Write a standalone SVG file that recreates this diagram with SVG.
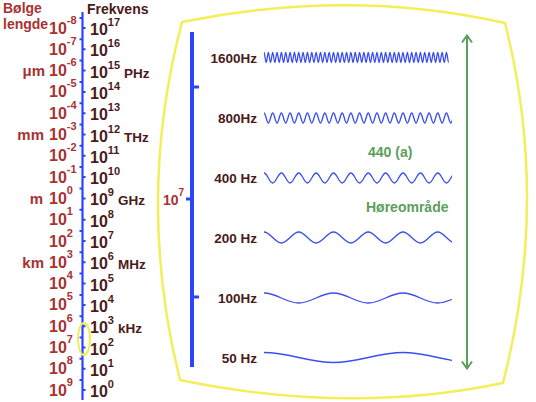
<svg xmlns="http://www.w3.org/2000/svg" width="536" height="402" viewBox="0 0 536 402">
<style>
.wl{font-family:"Liberation Sans",Arial,sans-serif;font-size:16px;font-weight:bold;fill:#a83232}
.fr{font-family:"Liberation Sans",Arial,sans-serif;font-size:16px;font-weight:bold;fill:#4a1a1a}
.sup{font-size:11px}
.unit{font-family:"Liberation Sans",Arial,sans-serif;font-size:13.5px;font-weight:bold;fill:#4a1a1a}
.wunit{font-family:"Liberation Sans",Arial,sans-serif;font-size:15px;font-weight:bold;fill:#a83232;text-anchor:end}
.head{font-family:"Liberation Sans",Arial,sans-serif;font-size:14px;font-weight:bold}
.hz{font-family:"Liberation Sans",Arial,sans-serif;font-size:13.5px;font-weight:bold;fill:#4a1a1a;text-anchor:end}
.wave{fill:none;stroke:#3a4ef0;stroke-width:1.3}
.green{font-family:"Liberation Sans",Arial,sans-serif;font-size:14px;font-weight:bold;fill:#5c9e5c}
.axis{stroke:#2a44ff;fill:none}
</style>
<defs>
<clipPath id="wclip"><rect x="263" y="0" width="189" height="402"/></clipPath>
</defs>
<rect width="536" height="402" fill="#ffffff"/>

<g id="headers">
<text class="head" x="3" y="13" fill="#a83232">Bølge</text>
<text class="head" x="3" y="28.5" fill="#a83232">lengde</text>
<text class="head" x="87" y="14" fill="#4a1a1a">Frekvens</text>
</g>

<g id="scale-axis">
<line class="axis" x1="82.5" y1="12" x2="82.5" y2="400" stroke-width="2.2"/>
<path class="axis" stroke-width="2" d="M79.5,18H82.5M79.5,39.3H82.5M79.5,60.6H82.5M79.5,81.9H82.5M79.5,103.2H82.5M79.5,124.5H82.5M79.5,145.8H82.5M79.5,167.1H82.5M79.5,188.4H82.5M79.5,209.7H82.5M79.5,231H82.5M79.5,252.3H82.5M79.5,273.6H82.5M79.5,294.9H82.5M79.5,316.2H82.5M79.5,337.5H82.5M79.5,358.8H82.5M79.5,380.1H82.5"/>
<path class="axis" stroke-width="2" d="M82.5,28H85.5M82.5,49.3H85.5M82.5,70.6H85.5M82.5,91.9H85.5M82.5,113.2H85.5M82.5,134.5H85.5M82.5,155.8H85.5M82.5,177.1H85.5M82.5,198.4H85.5M82.5,219.7H85.5M82.5,241H85.5M82.5,262.3H85.5M82.5,283.6H85.5M82.5,304.9H85.5M82.5,326.2H85.5M82.5,347.5H85.5M82.5,368.8H85.5M82.5,390.1H85.5"/>
<ellipse cx="84" cy="339" rx="6" ry="16" fill="none" stroke="#f0ee50" stroke-width="2"/>
</g>

<g id="wavelength-labels">
<text class="wl" x="49" y="33.5">10<tspan class="sup" dy="-10">-8</tspan></text>
<text class="wl" x="49" y="54.8">10<tspan class="sup" dy="-10">-7</tspan></text>
<text class="wl" x="49" y="76.1">10<tspan class="sup" dy="-10">-6</tspan></text>
<text class="wl" x="49" y="97.4">10<tspan class="sup" dy="-10">-5</tspan></text>
<text class="wl" x="49" y="118.7">10<tspan class="sup" dy="-10">-4</tspan></text>
<text class="wl" x="49" y="140">10<tspan class="sup" dy="-10">-3</tspan></text>
<text class="wl" x="49" y="161.3">10<tspan class="sup" dy="-10">-2</tspan></text>
<text class="wl" x="49" y="182.6">10<tspan class="sup" dy="-10">-1</tspan></text>
<text class="wl" x="49" y="203.9">10<tspan class="sup" dy="-10">0</tspan></text>
<text class="wl" x="49" y="225.2">10<tspan class="sup" dy="-10">1</tspan></text>
<text class="wl" x="49" y="246.5">10<tspan class="sup" dy="-10">2</tspan></text>
<text class="wl" x="49" y="267.8">10<tspan class="sup" dy="-10">3</tspan></text>
<text class="wl" x="49" y="289.1">10<tspan class="sup" dy="-10">4</tspan></text>
<text class="wl" x="49" y="310.4">10<tspan class="sup" dy="-10">5</tspan></text>
<text class="wl" x="49" y="331.7">10<tspan class="sup" dy="-10">6</tspan></text>
<text class="wl" x="49" y="353">10<tspan class="sup" dy="-10">7</tspan></text>
<text class="wl" x="49" y="374.3">10<tspan class="sup" dy="-10">8</tspan></text>
<text class="wl" x="49" y="395.6">10<tspan class="sup" dy="-10">9</tspan></text>
<text class="wunit" x="45" y="76.1">μm</text>
<text class="wunit" x="44" y="140">mm</text>
<text class="wunit" x="43" y="203.9">m</text>
<text class="wunit" x="44" y="267.8">km</text>
</g>

<g id="frequency-labels">
<text class="fr" x="90" y="35">10<tspan class="sup" dy="-9">17</tspan></text>
<text class="fr" x="90" y="56.3">10<tspan class="sup" dy="-9">16</tspan></text>
<text class="fr" x="90" y="77.6">10<tspan class="sup" dy="-9">15</tspan><tspan class="unit" dx="4" dy="9">PHz</tspan></text>
<text class="fr" x="90" y="98.9">10<tspan class="sup" dy="-9">14</tspan></text>
<text class="fr" x="90" y="120.2">10<tspan class="sup" dy="-9">13</tspan></text>
<text class="fr" x="90" y="141.5">10<tspan class="sup" dy="-9">12</tspan><tspan class="unit" dx="4" dy="9">THz</tspan></text>
<text class="fr" x="90" y="162.8">10<tspan class="sup" dy="-9">11</tspan></text>
<text class="fr" x="90" y="184.1">10<tspan class="sup" dy="-9">10</tspan></text>
<text class="fr" x="90" y="205.4">10<tspan class="sup" dy="-9">9</tspan><tspan class="unit" dx="4" dy="9">GHz</tspan></text>
<text class="fr" x="90" y="226.7">10<tspan class="sup" dy="-9">8</tspan></text>
<text class="fr" x="90" y="248">10<tspan class="sup" dy="-9">7</tspan></text>
<text class="fr" x="90" y="269.3">10<tspan class="sup" dy="-9">6</tspan><tspan class="unit" dx="4" dy="9">MHz</tspan></text>
<text class="fr" x="90" y="290.6">10<tspan class="sup" dy="-9">5</tspan></text>
<text class="fr" x="90" y="311.9">10<tspan class="sup" dy="-9">4</tspan></text>
<text class="fr" x="90" y="333.2">10<tspan class="sup" dy="-9">3</tspan><tspan class="unit" dx="4" dy="9">kHz</tspan></text>
<text class="fr" x="90" y="354.5">10<tspan class="sup" dy="-9">2</tspan></text>
<text class="fr" x="90" y="375.8">10<tspan class="sup" dy="-9">1</tspan></text>
<text class="fr" x="90" y="397.1">10<tspan class="sup" dy="-9">0</tspan></text>
</g>

<g id="screen">
<path d="M182,22 Q350,-12 505,23 Q550,200 503,383 Q350,415 180,380 Q135,200 182,22 Z" fill="none" stroke="#f3ef5a" stroke-width="2.5"/>
</g>

<g id="hz-axis">
<path class="axis" stroke-width="4" d="M192,32V367"/>
<path class="axis" stroke-width="3" d="M192,87H199M192,297H199M186,199H192"/>
<text class="wl" x="163" y="205" style="font-size:14px">10<tspan class="sup" style="font-size:10px" dy="-9">7</tspan></text>
</g>

<g id="wave-1600">
<text class="hz" x="257" y="63">1600Hz</text>
<path class="wave" clip-path="url(#wclip)" stroke-width="1" d="M264,52.5c0.789,0 1.383,10 2.172,10s1.383,-10 2.172,-10s1.383,10 2.172,10s1.383,-10 2.172,-10s1.383,10 2.172,10s1.383,-10 2.172,-10s1.383,10 2.172,10s1.383,-10 2.172,-10s1.383,10 2.172,10s1.383,-10 2.172,-10s1.383,10 2.172,10s1.383,-10 2.172,-10s1.383,10 2.172,10s1.383,-10 2.172,-10s1.383,10 2.172,10s1.383,-10 2.172,-10s1.383,10 2.172,10s1.383,-10 2.172,-10s1.383,10 2.172,10s1.383,-10 2.172,-10s1.383,10 2.172,10s1.383,-10 2.172,-10s1.383,10 2.172,10s1.383,-10 2.172,-10s1.383,10 2.172,10s1.383,-10 2.172,-10s1.383,10 2.172,10s1.383,-10 2.172,-10s1.383,10 2.172,10s1.383,-10 2.172,-10s1.383,10 2.172,10s1.383,-10 2.172,-10s1.383,10 2.172,10s1.383,-10 2.172,-10s1.383,10 2.172,10s1.383,-10 2.172,-10s1.383,10 2.172,10s1.383,-10 2.172,-10s1.383,10 2.172,10s1.383,-10 2.172,-10s1.383,10 2.172,10s1.383,-10 2.172,-10s1.383,10 2.172,10s1.383,-10 2.172,-10s1.383,10 2.172,10s1.383,-10 2.172,-10s1.383,10 2.172,10s1.383,-10 2.172,-10s1.383,10 2.172,10s1.383,-10 2.172,-10s1.383,10 2.172,10s1.383,-10 2.172,-10s1.383,10 2.172,10s1.383,-10 2.172,-10s1.383,10 2.172,10s1.383,-10 2.172,-10s1.383,10 2.172,10s1.383,-10 2.172,-10s1.383,10 2.172,10s1.383,-10 2.172,-10s1.383,10 2.172,10s1.383,-10 2.172,-10s1.383,10 2.172,10s1.383,-10 2.172,-10s1.383,10 2.172,10s1.383,-10 2.172,-10s1.383,10 2.172,10s1.383,-10 2.172,-10s1.383,10 2.172,10s1.383,-10 2.172,-10s1.383,10 2.172,10s1.383,-10 2.172,-10s1.383,10 2.172,10s1.383,-10 2.172,-10s1.383,10 2.172,10s1.383,-10 2.172,-10s1.383,10 2.172,10s1.383,-10 2.172,-10s1.383,10 2.172,10s1.383,-10 2.172,-10s1.383,10 2.172,10s1.383,-10 2.172,-10s1.383,10 2.172,10s1.383,-10 2.172,-10s1.383,10 2.172,10"/>
</g>

<g id="wave-800">
<text class="hz" x="257" y="123">800Hz</text>
<path class="wave" clip-path="url(#wclip)" d="M264,113c1.579,0 2.765,10 4.344,10s2.765,-10 4.344,-10s2.765,10 4.344,10s2.765,-10 4.344,-10s2.765,10 4.344,10s2.765,-10 4.344,-10s2.765,10 4.344,10s2.765,-10 4.344,-10s2.765,10 4.344,10s2.765,-10 4.344,-10s2.765,10 4.344,10s2.765,-10 4.344,-10s2.765,10 4.344,10s2.765,-10 4.344,-10s2.765,10 4.344,10s2.765,-10 4.344,-10s2.765,10 4.344,10s2.765,-10 4.344,-10s2.765,10 4.344,10s2.765,-10 4.344,-10s2.765,10 4.344,10s2.765,-10 4.344,-10s2.765,10 4.344,10s2.765,-10 4.344,-10s2.765,10 4.344,10s2.765,-10 4.344,-10s2.765,10 4.344,10s2.765,-10 4.344,-10s2.765,10 4.344,10s2.765,-10 4.344,-10s2.765,10 4.344,10s2.765,-10 4.344,-10s2.765,10 4.344,10s2.765,-10 4.344,-10s2.765,10 4.344,10s2.765,-10 4.344,-10s2.765,10 4.344,10s2.765,-10 4.344,-10s2.765,10 4.344,10s2.765,-10 4.344,-10s2.765,10 4.344,10s2.765,-10 4.344,-10s2.765,10 4.344,10s2.765,-10 4.344,-10s2.765,10 4.344,10"/>
</g>

<g id="wave-400">
<text class="hz" x="257" y="183">400 Hz</text>
<path class="wave" clip-path="url(#wclip)" d="M264,173c3.157,0 5.53,10 8.69,10s5.53,-10 8.69,-10s5.53,10 8.69,10s5.53,-10 8.69,-10s5.53,10 8.69,10s5.53,-10 8.69,-10s5.53,10 8.69,10s5.53,-10 8.69,-10s5.53,10 8.69,10s5.53,-10 8.69,-10s5.53,10 8.69,10s5.53,-10 8.69,-10s5.53,10 8.69,10s5.53,-10 8.69,-10s5.53,10 8.69,10s5.53,-10 8.69,-10s5.53,10 8.69,10s5.53,-10 8.69,-10s5.53,10 8.69,10s5.53,-10 8.69,-10s5.53,10 8.69,10s5.53,-10 8.69,-10s5.53,10 8.69,10"/>
</g>

<g id="wave-200">
<text class="hz" x="257" y="243">200 Hz</text>
<path class="wave" clip-path="url(#wclip)" d="M264,232c6.314,0 11.06,11 17.375,11s11.06,-11 17.375,-11s11.06,11 17.375,11s11.06,-11 17.375,-11s11.06,11 17.375,11s11.06,-11 17.375,-11s11.06,11 17.375,11s11.06,-11 17.375,-11s11.06,11 17.375,11s11.06,-11 17.375,-11s11.06,11 17.375,11"/>
</g>

<g id="wave-100">
<text class="hz" x="257" y="303">100Hz</text>
<path class="wave" clip-path="url(#wclip)" d="M264,293c12.63,0 22.12,10 34.75,10s22.12,-10 34.75,-10s22.12,10 34.75,10s22.12,-10 34.75,-10s22.12,10 34.75,10s22.12,-10 34.75,-10"/>
</g>

<g id="wave-50">
<text class="hz" x="257" y="363">50 Hz</text>
<path class="wave" clip-path="url(#wclip)" d="M264,352.5c25.26,0 44.24,10 69.5,10s44.24,-10 69.5,-10s44.24,10 69.5,10"/>
</g>

<g id="labels">
<text class="green" x="368" y="157">440 (a)</text>
<text class="green" x="366" y="212">Høreområde</text>
</g>

<g id="connectors">
<path d="M467,36V368M462,42.5L467,35.5L472,42.5M462,361.5L467,368.5L472,361.5" fill="none" stroke="#5c9e5c" stroke-width="2"/>
</g>
</svg>
